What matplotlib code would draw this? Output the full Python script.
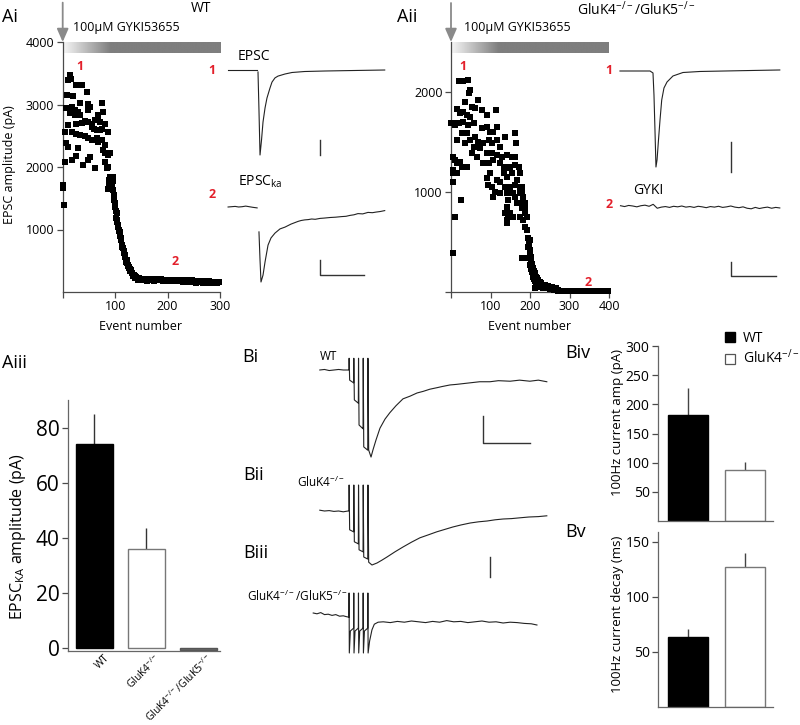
import numpy as np
import matplotlib
matplotlib.use("Agg")
import matplotlib.pyplot as plt
import matplotlib.transforms as mtransforms
from matplotlib.colors import LinearSegmentedColormap
from matplotlib.lines import Line2D

plt.rcParams['font.family'] = ['Open Sans', 'DejaVu Sans']
plt.rcParams['mathtext.fontset'] = 'custom'
plt.rcParams['mathtext.rm'] = 'Open Sans'
plt.rcParams['mathtext.it'] = 'Open Sans:italic'
plt.rcParams['mathtext.bf'] = 'Open Sans:bold'
plt.rcParams['mathtext.default'] = 'regular'

# ---------------- data ----------------
# Ai: WT, EPSC amplitude (pA) vs event number
wt_plateau = [(1, 1720), (1, 1660), (2, 1400), (4, 2080), (4, 2560), (7, 2950), (7, 2390), (9, 3150),
              (10, 2670), (10, 2320), (11, 3400), (13, 3470), (14, 2870), (16, 3410), (17, 2960),
              (17, 2560), (17, 2110), (20, 3130), (23, 2920), (23, 2830), (26, 3320), (26, 2690),
              (26, 2530), (26, 2170), (30, 2880), (30, 2310), (33, 3020), (33, 2830), (33, 2510),
              (36, 3310), (36, 2700), (39, 2030), (42, 2740), (42, 2490), (46, 3200), (49, 3010),
              (49, 2920), (49, 2720), (49, 2470), (49, 2110), (52, 2960), (52, 2160), (55, 2690),
              (55, 2640), (55, 2440), (58, 2430), (60, 2610), (62, 2760), (62, 1980), (65, 2590),
              (65, 2460), (68, 2830), (68, 2750), (68, 2400), (71, 2720), (71, 2590), (74, 3020),
              (74, 2610), (74, 2430), (77, 2880), (77, 2270), (81, 2690), (81, 2350), (81, 2220),
              (81, 2080), (84, 1980), (87, 2560), (87, 2190), (87, 2000), (87, 1650), (90, 1840),
              (90, 2220), (93, 1820), (93, 1760), (96, 1840), (96, 1630), (88, 1800), (89, 1700),
              (91, 1680), (92, 1650), (94, 1700), (95, 1780), (97, 1560)]
wt_decline = [(98, 1470), (99, 1420), (100, 1360), (101, 1300), (102, 1180), (103, 1260), (103, 1120),
              (104, 1150), (105, 1080), (106, 1040), (107, 1000), (108, 980), (109, 960), (110, 900),
              (111, 860), (112, 830), (113, 760), (114, 720), (115, 700), (116, 650), (117, 620),
              (118, 590), (119, 560), (120, 520), (121, 480), (122, 510), (123, 460), (124, 440),
              (125, 420), (126, 400), (127, 380), (128, 370), (129, 330), (130, 350), (131, 330),
              (132, 300), (133, 300), (134, 260), (135, 280), (136, 280), (137, 250), (138, 230),
              (139, 240), (140, 240), (141, 225), (142, 230), (143, 215), (144, 200), (145, 218)]
wt_tail_amps = [205, 190, 215, 200, 185, 210, 195, 180, 205, 190,
                200, 185, 210, 195, 180, 200, 190, 205, 185, 195,
                210, 190, 180, 200, 185, 195, 175, 190, 200, 180,
                195, 170, 185, 190, 175, 195, 180, 170, 185, 175,
                190, 165, 180, 170, 185, 160, 175, 180, 165, 170,
                185, 160, 175, 165, 150, 170, 180, 155, 165, 175,
                150, 160, 170, 145, 165, 155, 170, 150, 160, 145,
                165, 155, 140, 160, 150, 165, 155]
wt_tail_events = np.arange(147, 300, 2)

# Aii: GluK4-/-/GluK5-/-
ko_plateau = [(1, 1690), (4, 387), (4, 1187), (6, 1687), (6, 1353), (6, 1220), (6, 1103), (10, 1670),
              (10, 1320), (10, 753), (14, 1520), (14, 1287), (14, 1187), (16, 1827), (19, 1687),
              (21, 2110), (23, 1787), (23, 1303), (25, 920), (27, 1587), (27, 1253), (31, 2110),
              (31, 1803), (31, 1703), (35, 1903), (35, 1487), (40, 1770), (40, 1587), (40, 1253),
              (44, 2120), (44, 1670), (46, 1987), (48, 2020), (48, 1753), (48, 1520), (52, 1853),
              (52, 1387), (57, 1687), (57, 1453), (61, 1837), (61, 1553), (65, 1353), (69, 1920),
              (69, 1503), (73, 1437), (78, 1820), (78, 1637), (82, 1487), (82, 1287), (90, 1770),
              (90, 1653), (90, 1387), (90, 1137), (94, 1070), (95, 1520), (95, 1287), (99, 1603),
              (99, 1187), (103, 1487), (103, 1387), (103, 1053), (107, 1603), (107, 1320), (107, 953),
              (111, 1003), (114, 1820), (116, 1653), (116, 1520), (116, 1370), (116, 1120), (124, 1453),
              (124, 1287), (124, 1103), (124, 987), (128, 1353), (133, 1253), (133, 1187), (137, 1553),
              (137, 1053), (137, 787), (141, 1370), (141, 1237), (141, 1153), (141, 987), (141, 853),
              (141, 720), (141, 687), (145, 920), (145, 753), (150, 1253), (150, 1053), (150, 787),
              (154, 1353), (154, 1187), (158, 987), (158, 753), (162, 1587), (162, 1353), (162, 1270),
              (162, 1070), (162, 953), (165, 1487), (166, 1120), (166, 887), (171, 1253), (175, 1187),
              (175, 1053), (175, 987), (175, 753)]
ko_decline = [(179, 1053), (179, 1003), (179, 887), (179, 837), (179, 337), (183, 953), (183, 720),
              (187, 887), (187, 853), (187, 787), (187, 653), (192, 753), (192, 620), (192, 337),
              (196, 537), (196, 453), (198, 480), (200, 520), (200, 420), (200, 380), (200, 270),
              (202, 353), (202, 300), (203, 230), (204, 253), (204, 203), (205, 280), (206, 200),
              (207, 180), (208, 237), (208, 153), (209, 210), (210, 160), (211, 130), (212, 110),
              (213, 187), (213, 37), (214, 150), (215, 100), (216, 80), (217, 137), (218, 110),
              (219, 90), (220, 70), (221, 120), (221, 53), (222, 80), (224, 60), (225, 103), (226, 90),
              (228, 50), (229, 87), (230, 60), (232, 75), (234, 37), (235, 50), (237, 40), (238, 70),
              (240, 55), (243, 45), (246, 60), (248, 40), (250, 30), (252, 50), (255, 53), (258, 35),
              (262, 25), (265, 45), (267, 37), (270, 20)]
ko_tail_amps = [12, 8, 10, 6, 9, 11, 7, 10, 8, 12, 6, 9, 10, 7, 11, 8, 9, 12, 7, 10,
                8, 6, 11, 9, 7, 10, 8, 12, 9, 6, 10, 8, 11, 7, 9, 10, 6, 8, 12, 9, 7, 10, 8]
ko_tail_events = np.arange(272, 401, 3)

# Example traces (time ms, current pA)
ai1_pre_t = [-34, -1]
ai1_pre_i = [30, 30]
ai1_t = [0, 1.1, 2.3, 4, 5.7, 8, 10.2, 13.6, 15.9, 19.3, 22.7, 30.7, 38.6, 53, 76, 110, 144]
ai1_i = [-33, -1300, -2800, -2300, -1700, -1230, -900, -570, -370, -230, -170, -100, -50, -17, 0, 17, 33]

ai2_pre_t = [-34, -30, -26, -22, -18, -14, -10, -6, -1]
ai2_pre_i = [0, 1, 2, 0, 1, 3, 1, -1, -3]
ai2_t = [1.1, 2.3, 3.4, 5.7, 8, 11.4, 14.8, 19.3, 25, 30.7, 37.5, 45.5, 49, 53, 57, 61, 65, 70.5, 75,
         82, 88, 95, 100, 104.5, 109, 113.6, 119, 125, 130, 134, 139, 144]
ai2_i = [-83, -177, -250, -227, -183, -127, -103, -87, -73, -67, -57, -48, -45, -43, -42, -40, -41,
         -38, -37, -35, -34, -32, -31, -28, -26, -22, -23, -18, -19, -17, -15, -12]

aii1_t = [-35.6, -2.2, 1.1, 2.2, 3.3, 4.4, 5.6, 7.2, 8.9, 10.8, 13.3, 16.7, 23.3, 34.4, 53.3, 97.8, 142]
aii1_i = [0, 0, -33, -400, -983, -1600, -1483, -1150, -817, -483, -283, -183, -83, -25, -8, 5, 17]

aii2_i = [1, -2, 2, 0, -3, 1, 3, -1, 6, -8, -4, -2, -5, -1, -3, 0, -4, -2, -5, -1,
          -3, -6, -2, -4, -1, -5, -3, 0, -4, -6, -3, -8, -10, -5, -9, -6, -4, -8, -5, -7]
aii2_t = np.linspace(-35, 142, len(aii2_i))

bi_t = [-60, -50, -40, -30, -20, -10, 0, 2, 2.4, 3.5, 11.8, 12, 12.4, 13.5, 21.8, 22, 22.4, 23.5, 31.8,
        32, 32.4, 33.5, 41.8, 42, 42.4, 44, 49, 53, 59.6, 68, 78.7, 89, 102, 117, 132, 147, 160, 174,
        190, 200, 217, 230, 240, 260, 280, 302, 320, 345, 365, 387, 405, 423]
bi_i = [0, 1, -1, 0, 1, 0, 0, 0, 22, -19, -24, -24, 22, -56, -62, -62, 22, -103, -110, -110, 22, -144,
        -150, -150, 22, -150, -163, -150, -131, -109, -92, -80, -67, -54, -49, -43, -40, -36, -33, -31,
        -28, -27, -26, -24, -22, -22, -20, -21, -19, -21, -19, -22]

bii_t = [-60, -50, -40, -30, -20, -10, 0, 2, 2.4, 3.5, 11.8, 12, 12.4, 13.5, 21.8, 22, 22.4, 23.5, 31.8,
         32, 32.4, 33.5, 41.8, 42, 42.4, 44, 51, 61.7, 72, 83, 100, 117, 135, 153, 170, 189, 206, 223,
         240, 260, 278, 296, 313, 330, 348, 366, 385, 405, 423]
bii_i = [2, 0, 1, -1, 0, -2, 0, 0, 65, -47, -52, -52, 65, -77, -82, -82, 65, -97, -102, -102, 65, -115,
         -120, -120, 65, -128, -135, -130, -123, -115, -102, -90, -78, -67, -60, -52, -46, -40, -35,
         -30, -27, -25, -22, -20, -19, -17, -15, -14, -12]

biii_t = [-74, -66, -58, -50, -42, -34, -26, -18, -10, -4, 0,
          2, 2.3, 2.8, 5, 11.8, 12, 12.3, 12.8, 15, 21.8, 22, 22.3, 22.8, 25, 31.8,
          32, 32.3, 32.8, 35, 41.8, 42, 42.3, 42.8, 46, 51, 56, 64,
          75, 90, 105, 120, 135, 150, 165, 180, 195, 210, 225, 240, 255, 270, 285, 300,
          315, 330, 345, 360, 375, 390, 402]
biii_i = [10, 8, 11, 6, 7, 4, 6, 2, 3, 1, 0,
          -1, 60, -90, -35, -28, -28, 60, -90, -35, -28, -28, 60, -90, -35, -28,
          -28, 60, -90, -35, -28, -28, 60, -90, -60, -32, -18, -13,
          -12, -14, -11, -13, -10, -12, -14, -11, -13, -9, -12, -11, -14, -12, -10, -13,
          -12, -15, -13, -14, -16, -17, -20]

# Bar charts
aiii_groups = ['WT', 'GluK4$^{-/-}$', 'GluK4$^{-/-}$/GluK5$^{-/-}$']
aiii_mean = [74, 36, -0.8]
aiii_sem = [11, 7.5, 0]
b_groups = ['WT', 'GluK4$^{-/-}$']
biv_mean = [181, 88]
biv_sem = [47, 13]
bv_mean = [63.5, 127]
bv_sem = [7.5, 13]

# ---------------- figure ----------------
W, H = 800, 725
fig = plt.figure(figsize=(W / 100, H / 100), dpi=100)
RED = '#e3202b'
AXC = '#4a4a4a'


def px_axes(l, t, r, b):
    return fig.add_axes([l / W, 1 - b / H, (r - l) / W, (b - t) / H])


def ftext(x, y, s, **kw):
    return fig.text(x / W, 1 - y / H, s, **kw)


def trace_axes(origin, sx, sy):
    ox, oy = origin
    ax = fig.add_axes([0, 0, 1, 1])
    ax.set_xlim(-ox / sx, (W - ox) / sx)
    ax.set_ylim((oy - H) / sy, oy / sy)
    ax.axis('off')
    return ax


def style_axes(ax, fs):
    for s in ['top', 'right']:
        ax.spines[s].set_visible(False)
    for s in ['left', 'bottom']:
        ax.spines[s].set_color(AXC)
        ax.spines[s].set_linewidth(0.9)
    ax.tick_params(direction='out', length=4, width=0.9, color=AXC, labelsize=fs, pad=2)


grad_cmap = LinearSegmentedColormap.from_list('g', [(0, '#f6f6f6'), (0.3, '#7e7e7e'), (1, '#7e7e7e')])
grad = np.linspace(0, 1, 256).reshape(1, -1)


def scatter_panel(ax, plateau, decline, tail_ev, tail_amp, xmax, ymax, bar_h, arrow_h):
    ev = [p[0] for p in plateau + decline]
    am = [p[1] for p in plateau + decline]
    ax.scatter(ev, am, marker='s', s=15, c='black', linewidths=0, clip_on=False, zorder=3)
    ax.scatter(tail_ev, tail_amp, marker='s', s=15, c='black', linewidths=0, clip_on=False, zorder=3)
    ax.imshow(grad, extent=(0, xmax, ymax - bar_h, ymax), aspect='auto', cmap=grad_cmap, zorder=1)
    ax.annotate('', xy=(0, ymax), xytext=(0, ymax + arrow_h),
                arrowprops=dict(arrowstyle='-|>,head_length=0.8,head_width=0.35', color='#8a8a8a',
                                lw=1.3, shrinkA=0, shrinkB=0), annotation_clip=False)
    ax.set_xlim(0, xmax)
    ax.set_ylim(0, ymax)
    style_axes(ax, 9)


# Ai scatter
axAi = px_axes(62.7, 42, 220, 292)
scatter_panel(axAi, wt_plateau, wt_decline, wt_tail_events, wt_tail_amps, 300, 4000, 170, 630)
axAi.set_xticks([0, 100, 200, 300], ['', '100', '200', '300'])
axAi.set_yticks([1000, 2000, 3000, 4000])
ftext(141, 326, 'Event number', ha='center', va='center', fontsize=9)
ftext(10, 165, 'EPSC amplitude (pA)', ha='center', va='center', rotation=90, fontsize=9)

# Aii scatter
axAii = px_axes(451, 42, 609, 292)
scatter_panel(axAii, ko_plateau, ko_decline, ko_tail_events, ko_tail_amps, 400, 2500, 110, 390)
axAii.set_xticks([0, 100, 200, 300, 400], ['', '100', '200', '300', '400'])
axAii.set_yticks([0, 1000, 2000], ['', '1000', '2000'])
ftext(530, 326, 'Event number', ha='center', va='center', fontsize=9)

# texts top
ftext(2, 17, 'Ai', ha='left', va='center', fontsize=13)
ftext(397, 17, 'Aii', ha='left', va='center', fontsize=13)
ftext(201, 9, 'WT', ha='center', va='center', fontsize=10)
ftext(636, 10, 'GluK4$^{-/-}$/GluK5$^{-/-}$', ha='center', va='center', fontsize=10)
ftext(73, 27, '100µM GYKI53655', ha='left', va='center', fontsize=9)
ftext(464, 27, '100µM GYKI53655', ha='left', va='center', fontsize=9)
ftext(238, 57, 'EPSC', ha='left', va='center', fontsize=10)
ftext(238, 182, 'EPSC$_{ka}$', ha='left', va='center', fontsize=10)
ftext(633, 190, 'GYKI', ha='left', va='center', fontsize=10)
for (x, y, s) in [(80, 66, '1'), (212, 70, '1'), (212, 194, '2'), (175, 262, '2'),
                  (463, 67, '1'), (609, 70, '1'), (609, 205, '2'), (588, 283, '2')]:
    ftext(x, y, s, ha='center', va='center', fontsize=9, color=RED, fontweight='bold')

# Ai traces
t1 = trace_axes((258, 71), 0.88, 0.03)
t1.plot(ai1_pre_t, ai1_pre_i, color='#222', lw=0.8)
t1.plot(ai1_t, ai1_i, color='#222', lw=0.8)
t1.plot([70.5, 70.5], [-2300, -2800], color='#333', lw=1)

t2 = trace_axes((258, 207), 0.88, 0.3)
t2.plot(ai2_pre_t, ai2_pre_i, color='#222', lw=0.8)
t2.plot(ai2_t, ai2_i, color='#222', lw=0.8)
t2.plot([70.5, 70.5, 120.5], [-177, -227, -227], color='#333', lw=1)

# Aii traces
t3 = trace_axes((652, 71), 0.9, 0.06)
t3.plot(aii1_t, aii1_i, color='#222', lw=0.8)
t3.plot([88, 88], [-1183, -1683], color='#333', lw=1)

t4 = trace_axes((652, 206), 0.9, 0.28)
t4.plot(aii2_t, aii2_i, color='#222', lw=0.8)
t4.plot([88, 88, 138], [-200, -250, -250], color='#333', lw=1)

# Aiii bars
axAiii = px_axes(68, 400, 220, 651)
x3 = np.arange(len(aiii_groups))
axAiii.bar(x3, aiii_mean, width=0.71, color=['black', 'white', '#6a6a6a'],
           edgecolor=['black', '#777777', '#555555'], linewidth=1, zorder=2)
axAiii.vlines(x3[:2], np.array(aiii_mean[:2]), np.array(aiii_mean[:2]) + np.array(aiii_sem[:2]),
              color='#333', lw=1, zorder=1)
axAiii.set_xlim(-0.51, 2.42)
axAiii.set_ylim(-1.1, 90)
style_axes(axAiii, 15)
axAiii.spines['left'].set_color('#666')
axAiii.spines['bottom'].set_color('#666')
axAiii.set_yticks([0, 20, 40, 60, 80])
axAiii.set_xticks(x3)
axAiii.set_xticklabels(aiii_groups, rotation=45, ha='right', va='center', rotation_mode='anchor',
                       fontsize=7.5)
axAiii.tick_params(axis='x', length=0, pad=4)
shift = mtransforms.ScaledTranslation(13 / 100, 0, fig.dpi_scale_trans)
for lab in axAiii.get_xticklabels():
    lab.set_transform(lab.get_transform() + shift)
ftext(2, 363, 'Aiii', ha='left', va='center', fontsize=13)
ftext(18, 537, 'EPSC$_{KA}$ amplitude (pA)', ha='center', va='center', rotation=90, fontsize=11.5)

# B traces
tb1 = trace_axes((348, 370), 0.47, 0.534)
tb1.plot(bi_t, bi_i, color='#222', lw=0.8)
tb1.plot([287, 287, 387], [-87, -137, -137], color='#333', lw=1)

tb2 = trace_axes((348, 511), 0.47, 0.4)
tb2.plot(bii_t, bii_i, color='#222', lw=0.8)
tb2.plot([302, 302], [-115, -165], color='#333', lw=1)

tb3 = trace_axes((348, 617), 0.47, 0.4)
tb3.plot(biii_t, biii_i, color='#222', lw=0.8)

ftext(242, 357, 'Bi', ha='left', va='center', fontsize=13)
ftext(243, 475, 'Bii', ha='left', va='center', fontsize=13)
ftext(243, 553, 'Biii', ha='left', va='center', fontsize=13)
ftext(320, 357, 'WT', ha='left', va='center', fontsize=8.5)
ftext(297, 482, 'GluK4$^{-/-}$', ha='left', va='center', fontsize=8.5)
ftext(247, 596, 'GluK4$^{-/-}$/GluK5$^{-/-}$', ha='left', va='center', fontsize=8.5)

# Biv / Bv bars
xb = np.arange(len(b_groups))


def small_bar(ax, mean, sem, ylim, ticks):
    ax.bar(xb, mean, width=0.7, color=['black', 'white'], edgecolor=['black', '#777777'],
           linewidth=1, zorder=2)
    ax.vlines(xb, np.array(mean), np.array(mean) + np.array(sem), color='#444', lw=1, zorder=1)
    ax.set_xlim(-0.526, 1.49)
    ax.set_ylim(*ylim)
    style_axes(ax, 10)
    ax.spines['left'].set_color('#666')
    ax.spines['bottom'].set_color('#666')
    ax.set_yticks(ticks)
    ax.set_xticks([])


axBiv = px_axes(658, 346, 773, 521)
small_bar(axBiv, biv_mean, biv_sem, (0, 300), [50, 100, 150, 200, 250, 300])
axBv = px_axes(658, 532, 773, 707)
small_bar(axBv, bv_mean, bv_sem, (0, 159), [50, 100, 150])
ftext(565, 353, 'Biv', ha='left', va='center', fontsize=13)
ftext(565, 532, 'Bv', ha='left', va='center', fontsize=13)
ftext(617, 422, '100Hz current amp (pA)', ha='center', va='center', rotation=90, fontsize=9.5)
ftext(617, 614, '100Hz current decay (ms)', ha='center', va='center', rotation=90, fontsize=9.5)

handles = [Line2D([], [], marker='s', ls='', mfc='black', mec='black', ms=7.5),
           Line2D([], [], marker='s', ls='', mfc='white', mec='#555', ms=7.5, mew=0.9)]
fig.legend(handles, b_groups, loc='upper left', bbox_to_anchor=(722 / W, 1 - 331 / H),
           frameon=False, fontsize=10, handletextpad=0.3, labelspacing=0.2,
           borderaxespad=0, borderpad=0, handlelength=1.2)

fig.savefig('out.png', dpi=100)
